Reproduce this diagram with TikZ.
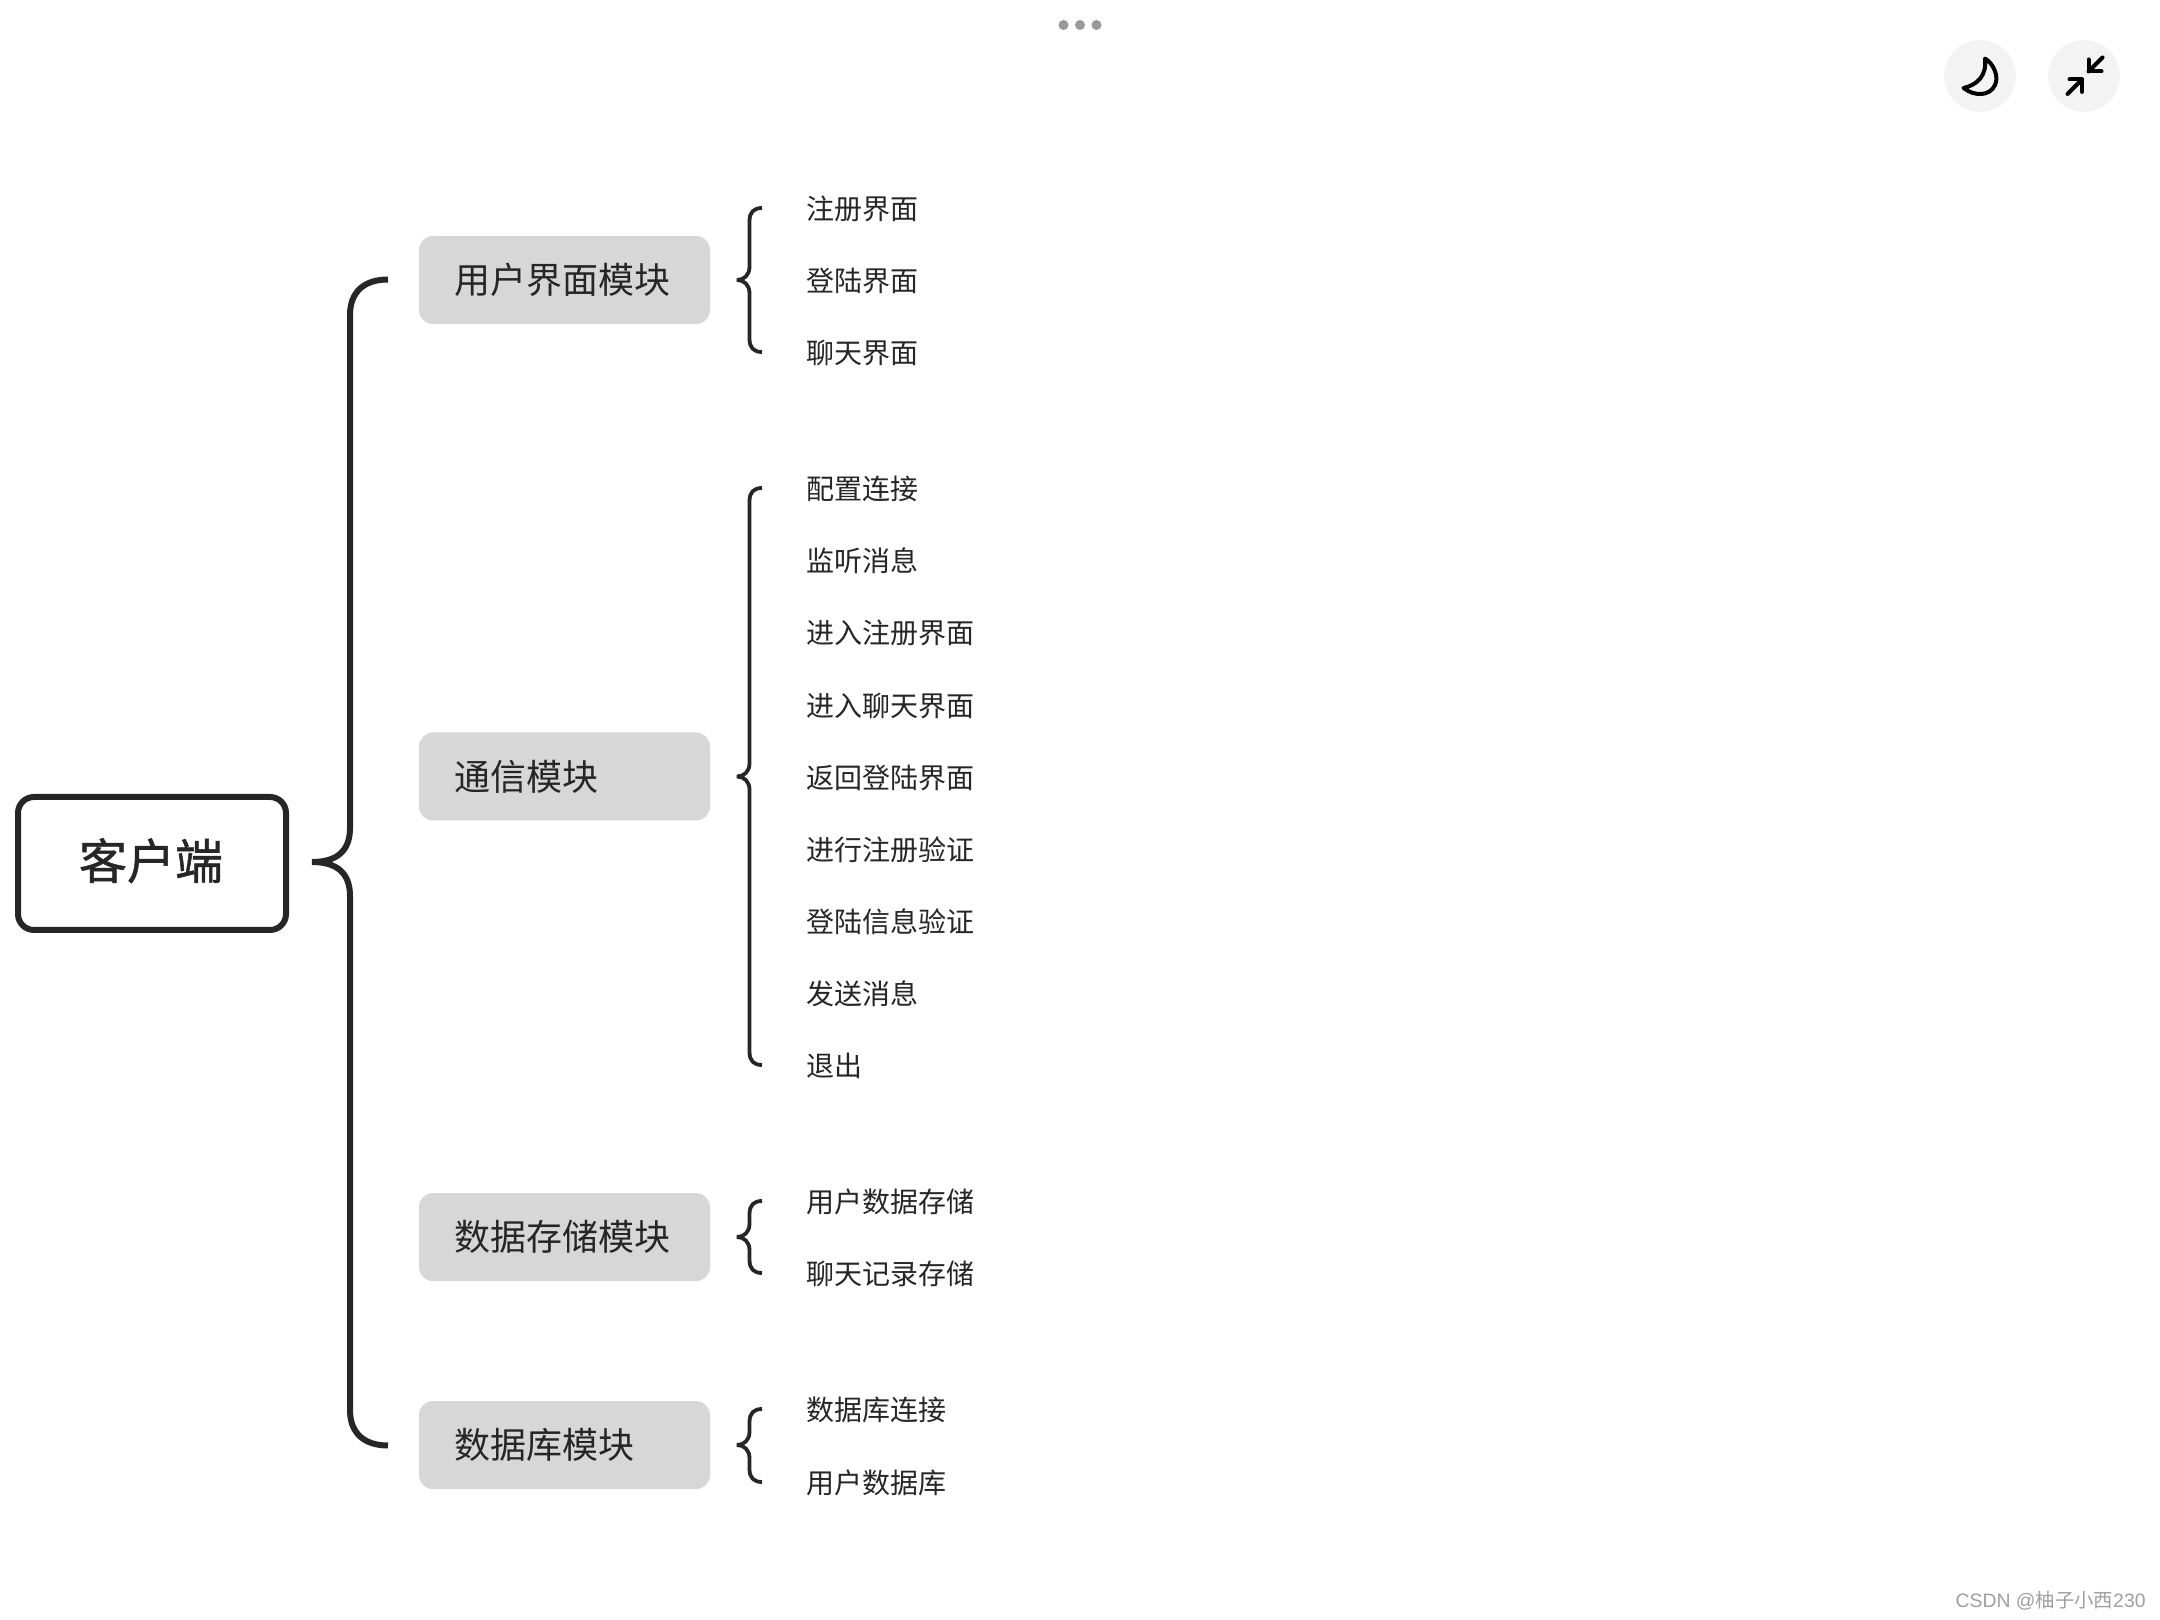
\documentclass[tikz,border=0pt]{standalone}
\usepackage{fontspec}
\setmainfont{Noto Sans CJK SC}
\newfontfamily\rootfont[FakeBold=1.1]{Noto Sans CJK SC}
\newfontfamily\wmlatin{Liberation Sans}
\definecolor{ink}{HTML}{262626}
\definecolor{catfill}{HTML}{D7D7D7}
\definecolor{iconbg}{HTML}{F3F3F3}
\definecolor{dotgrey}{HTML}{999999}
\definecolor{wmgrey}{HTML}{A0A0A0}
\tikzset{
  rootbox/.style={draw=ink,line width=3pt,rounded corners=8pt,minimum width=134pt,minimum height=66.5pt,inner sep=0pt,font=\rootfont\fontsize{24pt}{28pt}\selectfont,text=ink},
  catbox/.style={fill=catfill,rounded corners=7pt,minimum height=44pt,text width=110pt,inner xsep=17.75pt,inner ysep=0pt,align=left,font=\fontsize{18pt}{22pt}\selectfont,text=ink},
  leaf/.style={anchor=west,inner sep=0pt,font=\fontsize{14pt}{17pt}\selectfont,text=ink},
  bigbrace/.style={draw=ink,line width=3pt,line join=bevel},
  smallbrace/.style={draw=ink,line width=1.9pt,line join=bevel},
  iconbtn/.style={circle,fill=iconbg,minimum size=36pt,inner sep=0pt},
  iconline/.style={draw=black,line width=2pt,line cap=round,line join=round},
  dotmark/.style={circle,fill=dotgrey,minimum size=5pt,inner sep=0pt},
}
\newcommand{\smallbr}[4]{%
  \coordinate (#1t) at (762,#2);
  \coordinate (#1m) at (737,#3);
  \coordinate (#1b) at (762,#4);
  \draw[smallbrace] (#1t) .. controls +(-8,0) and +(0,-9) .. ++(-12.5,13)
    -- (749.5,#3-13) .. controls +(0,8) and +(7,0) .. (#1m)
    .. controls +(7,0) and +(0,-8) .. (749.5,#3+13)
    -- (749.5,#4-13) .. controls +(0,9) and +(-8,0) .. (#1b);
}
\begin{document}
\begin{tikzpicture}[x=0.5pt,y=-0.5pt]
\useasboundingbox[fill=white] (0,0) rectangle (2160,1620);
% window chrome
\node[dotmark] (d1) at (1063.5,25) {};
\node[dotmark] (d2) at (1080,25) {};
\node[dotmark] (d3) at (1096.5,25) {};
\node[iconbtn] (moon) at (1980,76) {};
\node[iconbtn] (shrink) at (2084,76) {};
\draw[iconline] (1985,58.5) .. controls (1994,64) and (1999,77) .. (1995,85)
  .. controls (1990,96) and (1975,97) .. (1963.5,88)
  .. controls (1977,85) and (1987,76) .. (1985,58.5) -- cycle;
\draw[iconline] (2102.5,57.5) -- (2088.5,71.5);
\draw[iconline] (2088.5,59.5) -- (2088.5,71.5) -- (2101.5,71.5);
\draw[iconline] (2067.5,94) -- (2082,79.5);
\draw[iconline] (2069.5,79.5) -- (2082,79.5) -- (2082,92);
% root
\node[rootbox] (root) at (152,863.5) {\raisebox{1.4pt}[\height][\depth]{\kern-0.5pt 客户端\kern0.5pt}};
% brace
\coordinate (rtip) at (312,862);
\coordinate (rtop) at (388,279.5);
\coordinate (rbot) at (388,1445.5);
\draw[bigbrace] (rtop) .. controls (364,279.5) and (350,292) .. (350,315)
  -- (350,828) .. controls (350,850) and (338,862) .. (rtip)
  .. controls (338,862) and (350,874) .. (350,896)
  -- (350,1410) .. controls (350,1433) and (364,1445.5) .. (rbot);
% categories
\node[catbox] (c1) at (564.5,280) {用户界面模块};
\node[catbox] (c2) at (564.5,776.5) {通信模块};
\node[catbox] (c3) at (564.5,1237) {数据存储模块};
\node[catbox] (c4) at (564.5,1445) {数据库模块};
% small braces
\smallbr{a}{208}{280}{352}
\smallbr{b}{488}{776.5}{1065}
\smallbr{e}{1201}{1237}{1273}
\smallbr{f}{1409}{1445}{1482}
% leaves
\node[leaf] (l1) at (806,208.5) {注册界面};
\node[leaf] (l2) at (806,280.5) {登陆界面};
\node[leaf] (l3) at (806,352.5) {聊天界面};
\node[leaf] (m1) at (806,488.5) {配置连接};
\node[leaf] (m2) at (806,560.5) {监听消息};
\node[leaf] (m3) at (806,632.5) {进入注册界面};
\node[leaf] (m4) at (806,705.5) {进入聊天界面};
\node[leaf] (m5) at (806,777.5) {返回登陆界面};
\node[leaf] (m6) at (806,849.5) {进行注册验证};
\node[leaf] (m7) at (806,921.5) {登陆信息验证};
\node[leaf] (m8) at (806,993.5) {发送消息};
\node[leaf] (m9) at (806,1065.5) {退出};
\node[leaf] (s1) at (806,1201.5) {用户数据存储};
\node[leaf] (s2) at (806,1273.5) {聊天记录存储};
\node[leaf] (q1) at (806,1409.5) {数据库连接};
\node[leaf] (q2) at (806,1482.5) {用户数据库};
% watermark
\node[anchor=east,inner sep=0pt,text=wmgrey,font=\fontsize{9.7pt}{12pt}\selectfont] (wm) at (2146,1601) {{\wmlatin CSDN @}柚子小西{\wmlatin 230}};
\end{tikzpicture}
\end{document}
